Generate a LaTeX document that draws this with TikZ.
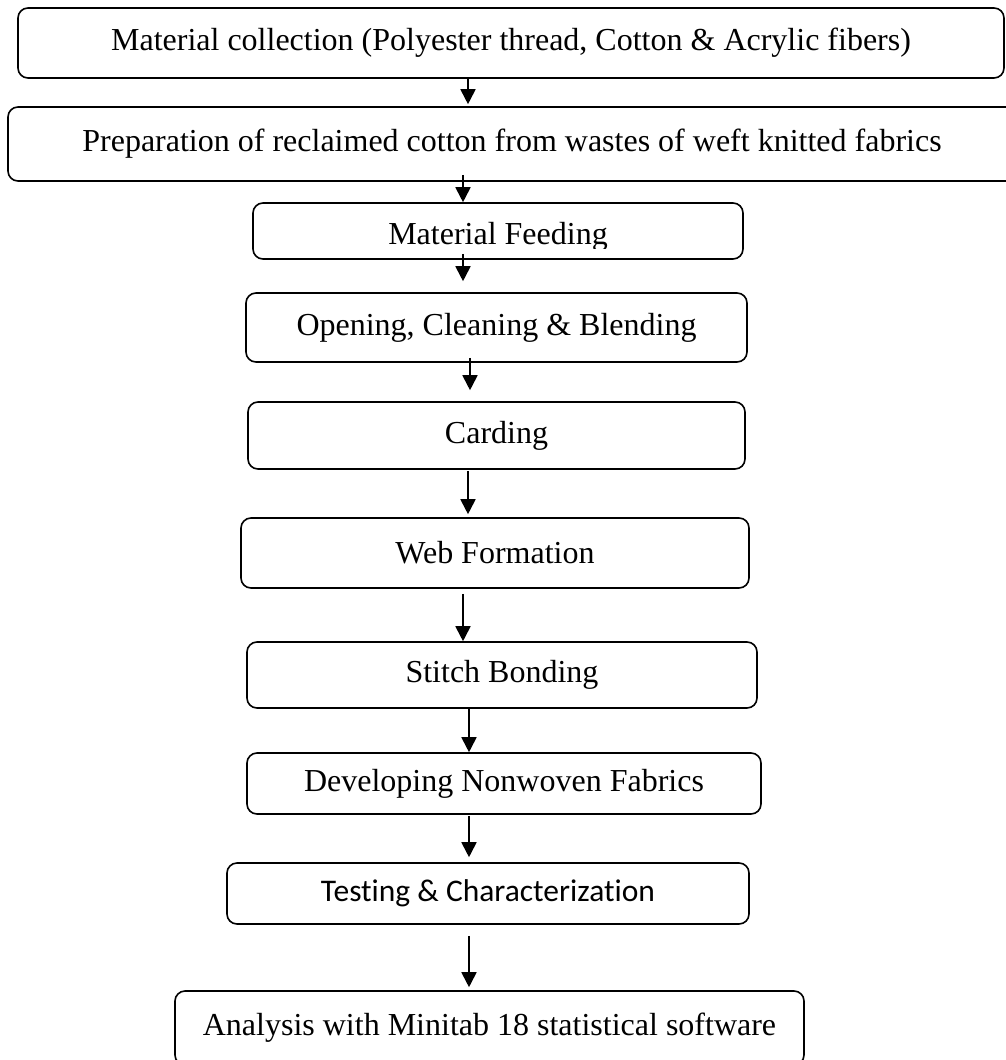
\documentclass[tikz,border=0pt]{standalone}
\usepackage{fontspec}
\setmainfont{Liberation Serif}
\newfontfamily\calfont[Ligatures=NoCommon]{Carlito}
\usetikzlibrary{arrows.meta}

\begin{document}
\begin{tikzpicture}[x=1pt, y=-1pt, line width=1.6pt,
    stage/.style={draw, rounded corners=10pt, inner sep=0pt, font=\fontsize{32}{38}\selectfont},
    flow/.style={-{Triangle[length=15pt, width=15pt]}, line width=1.8pt}]
			\useasboundingbox (0,0) rectangle (1005,1060);
			\node [stage, minimum width=986pt, minimum height=70pt] (coll) at (511,43) {Material collection (Polyester thread, Cotton \& Acrylic fibers)};
			\node [stage, minimum width=1008pt, minimum height=74pt] (prep) at (512,144) {Preparation of reclaimed cotton from wastes of weft knitted fabrics};
			\node [stage, minimum width=490pt, minimum height=56pt] (feed) at (498,231) {};
			\node [stage, minimum width=501pt, minimum height=69pt] (open) at (496.5,327.5) {Opening, Cleaning \& Blending};
			\node [stage, minimum width=497pt, minimum height=67pt] (card) at (496.5,435.5) {Carding};
			\node [stage, minimum width=508pt, minimum height=70pt] (web) at (495,553) {Web Formation};
			\node [stage, minimum width=510pt, minimum height=66pt] (stitch) at (502,675) {Stitch Bonding};
			\node [stage, minimum width=514pt, minimum height=61pt] (dev) at (504,783.5) {Developing Nonwoven Fabrics};
			\node [stage, minimum width=522pt, minimum height=61pt, font=\calfont\fontsize{31.5}{38}\selectfont] (test) at (488,893.5) {Testing \& Characterization};
			\node [stage, minimum width=629pt, minimum height=74pt] (ana) at (489.5,1028) {Analysis with Minitab 18 statistical software};
			% label of the feeding box is cut at the bottom
			\begin{scope}
				\clip (feed.north west) rectangle ([yshift=11pt]feed.south east);
				\node [font=\fontsize{32}{38}\selectfont] (feedtext) at ([yshift=-6pt]feed.center) {Material Feeding};
			\end{scope}
			\path [flow, shorten >=2pt] (coll.south -| 468,0) edge (prep.north -| 468,0);
			\path [flow, shorten <=-7pt] (prep.south -| 463,0) edge (feed.north -| 463,0);
			\path [flow, shorten <=-6pt, shorten >=11pt] (feed.south -| 463,0) edge (open.north -| 463,0);
			\path [flow, shorten <=-5pt, shorten >=11pt] (open.south -| 470,0) edge (card.north -| 470,0);
			\path [flow, shorten <=1pt, shorten >=3pt] (card.south -| 468,0) edge (web.north -| 468,0);
			\path [flow, shorten <=5pt] (web.south -| 463,0) edge (stitch.north -| 463,0);
			\path [flow] (stitch.south -| 469,0) edge (dev.north -| 469,0);
			\path [flow, shorten <=1pt, shorten >=5pt] (dev.south -| 469,0) edge (test.north -| 469,0);
			\path [flow, shorten <=11pt, shorten >=3pt] (test.south -| 469,0) edge (ana.north -| 469,0);
		\end{tikzpicture}
\end{document}
